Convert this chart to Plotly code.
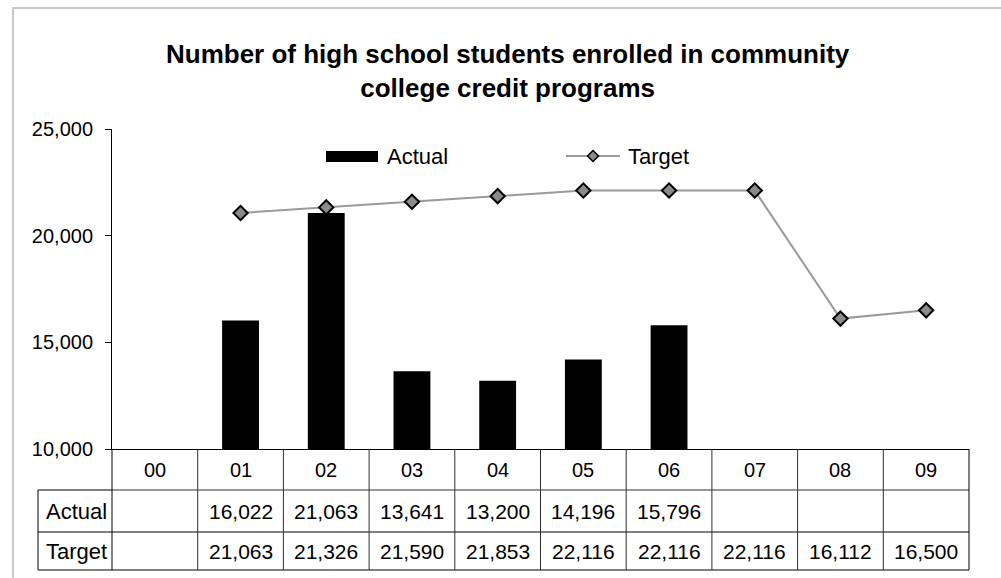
import plotly.graph_objects as go

# ---- data ----
categories = ["00", "01", "02", "03", "04", "05", "06", "07", "08", "09"]
actual = [None, 16022, 21063, 13641, 13200, 14196, 15796, None, None, None]
target = [None, 21063, 21326, 21590, 21853, 22116, 22116, 22116, 16112, 16500]
y_ticks = [10000, 15000, 20000, 25000]
y_tick_labels = ["10,000", "15,000", "20,000", "25,000"]
row_labels = ["Actual", "Target"]
title_text = "Number of high school students enrolled in community<br>college credit programs"

W, H = 1001, 578
L, R, T, B = 112, 969, 129, 449  # plot area in pixels
FONT = "Liberation Sans, Arial, sans-serif"


def px(x):
    return (x - L) / (R - L)


def py(y):
    return (B - y) / (B - T)


fig = go.Figure()
fig.add_trace(go.Bar(x=categories, y=actual, marker=dict(color="black", line=dict(width=0)),
                     width=0.43, name="Actual", showlegend=False))
fig.add_trace(go.Scatter(x=categories, y=target, mode="lines+markers", name="Target",
                         line=dict(color="#9a9a9a", width=2),
                         marker=dict(symbol="diamond", size=11, color="#8a8a8a",
                                     line=dict(color="black", width=2)),
                         showlegend=False, connectgaps=False))

shapes = []
annotations = []

# outer chart border
shapes.append(dict(type="rect", xref="paper", yref="paper", x0=px(13), x1=px(1012),
                   y0=py(590), y1=py(8), line=dict(color="#c8c8c8", width=2)))

# table geometry
n = len(categories)
col_w = (R - L) / n
row_y = [449, 490, 532, 570]
lab_x = 38
dark = "#303030"
shapes.append(dict(type="line", xref="paper", yref="paper", x0=px(L), x1=px(R), y0=py(490), y1=py(490),
                   line=dict(color=dark, width=1)))
shapes.append(dict(type="line", xref="paper", yref="paper", x0=px(lab_x), x1=px(L), y0=py(490), y1=py(490),
                   line=dict(color="black", width=1)))
for yy in row_y[2:]:
    shapes.append(dict(type="line", xref="paper", yref="paper", x0=px(lab_x), x1=px(R), y0=py(yy), y1=py(yy),
                       line=dict(color="black", width=1)))
shapes.append(dict(type="line", xref="paper", yref="paper", x0=px(lab_x), x1=px(lab_x), y0=py(490), y1=py(570),
                   line=dict(color="black", width=1)))
for i in range(n + 1):
    xx = L + i * col_w
    shapes.append(dict(type="line", xref="paper", yref="paper", x0=px(xx), x1=px(xx), y0=py(449), y1=py(570),
                       line=dict(color="black" if i in (0, n) else dark, width=1)))

# category labels and values
for i, c in enumerate(categories):
    annotations.append(dict(x=c, xref="x", y=py(469.5), yref="paper", text=c, showarrow=False,
                            font=dict(size=20, color="black", family=FONT), xanchor="center", yanchor="middle"))
    for r, series in enumerate([actual, target]):
        v = series[i]
        if v is not None:
            annotations.append(dict(x=c, xref="x", y=py((row_y[r + 1] + row_y[r + 2]) / 2), yref="paper",
                                    text=f"{v:,}", showarrow=False,
                                    font=dict(size=21, color="black", family=FONT),
                                    xanchor="center", yanchor="middle"))
for r, lab in enumerate(row_labels):
    annotations.append(dict(x=px(44), xref="paper", y=py((row_y[r + 1] + row_y[r + 2]) / 2), yref="paper",
                            text=lab, showarrow=False, font=dict(size=22, color="black", family=FONT),
                            xanchor="left", yanchor="middle"))

# legend
shapes.append(dict(type="rect", xref="paper", yref="paper", x0=px(326), x1=px(378), y0=py(162), y1=py(151),
                   fillcolor="black", line=dict(width=0)))
annotations.append(dict(x=px(385), xref="paper", y=py(156), yref="paper", text=row_labels[0], showarrow=False,
                        font=dict(size=22, color="black", family=FONT), xanchor="left", yanchor="middle"))
shapes.append(dict(type="line", xref="paper", yref="paper", x0=px(566), x1=px(620), y0=py(156), y1=py(156),
                   line=dict(color="#9a9a9a", width=2)))
cx, cy, d = 593, 156, 5.5
shapes.append(dict(type="path", xref="paper", yref="paper",
                   path=f"M {px(cx - d)},{py(cy)} L {px(cx)},{py(cy - d)} L {px(cx + d)},{py(cy)} L {px(cx)},{py(cy + d)} Z",
                   fillcolor="#8a8a8a", line=dict(color="black", width=1.5)))
annotations.append(dict(x=px(626), xref="paper", y=py(156), yref="paper", text=row_labels[1], showarrow=False,
                        font=dict(size=22, color="black", family=FONT), xanchor="left", yanchor="middle"))

# title
annotations.append(dict(x=px(508), xref="paper", y=py(71), yref="paper", text=f"<b>{title_text}</b>",
                        showarrow=False, font=dict(size=26, color="black", family=FONT),
                        xanchor="center", yanchor="middle", align="center"))

fig.update_layout(
    width=W, height=H,
    margin=dict(l=L, r=W - R, t=T, b=H - B, pad=0),
    paper_bgcolor="white", plot_bgcolor="white",
    font=dict(family=FONT, color="black"),
    showlegend=False,
    shapes=shapes, annotations=annotations,
    xaxis=dict(type="category", range=[-0.5, n - 0.5], showline=True, linecolor="black", linewidth=1,
               showticklabels=False, ticks="", showgrid=False, zeroline=False, fixedrange=True),
    yaxis=dict(range=[10000, 25000], tickvals=y_ticks, ticktext=y_tick_labels, showline=True,
               linecolor="black", linewidth=1, ticks="outside", ticklen=6, tickcolor="black",
               showgrid=False, zeroline=False, tickfont=dict(size=20, family=FONT, color="black"),
               ticklabelstandoff=8, fixedrange=True),
)

fig.write_html("out.html", config={"displayModeBar": False},
               post_script="document.body.style.margin='0';document.body.style.overflow='hidden';")
